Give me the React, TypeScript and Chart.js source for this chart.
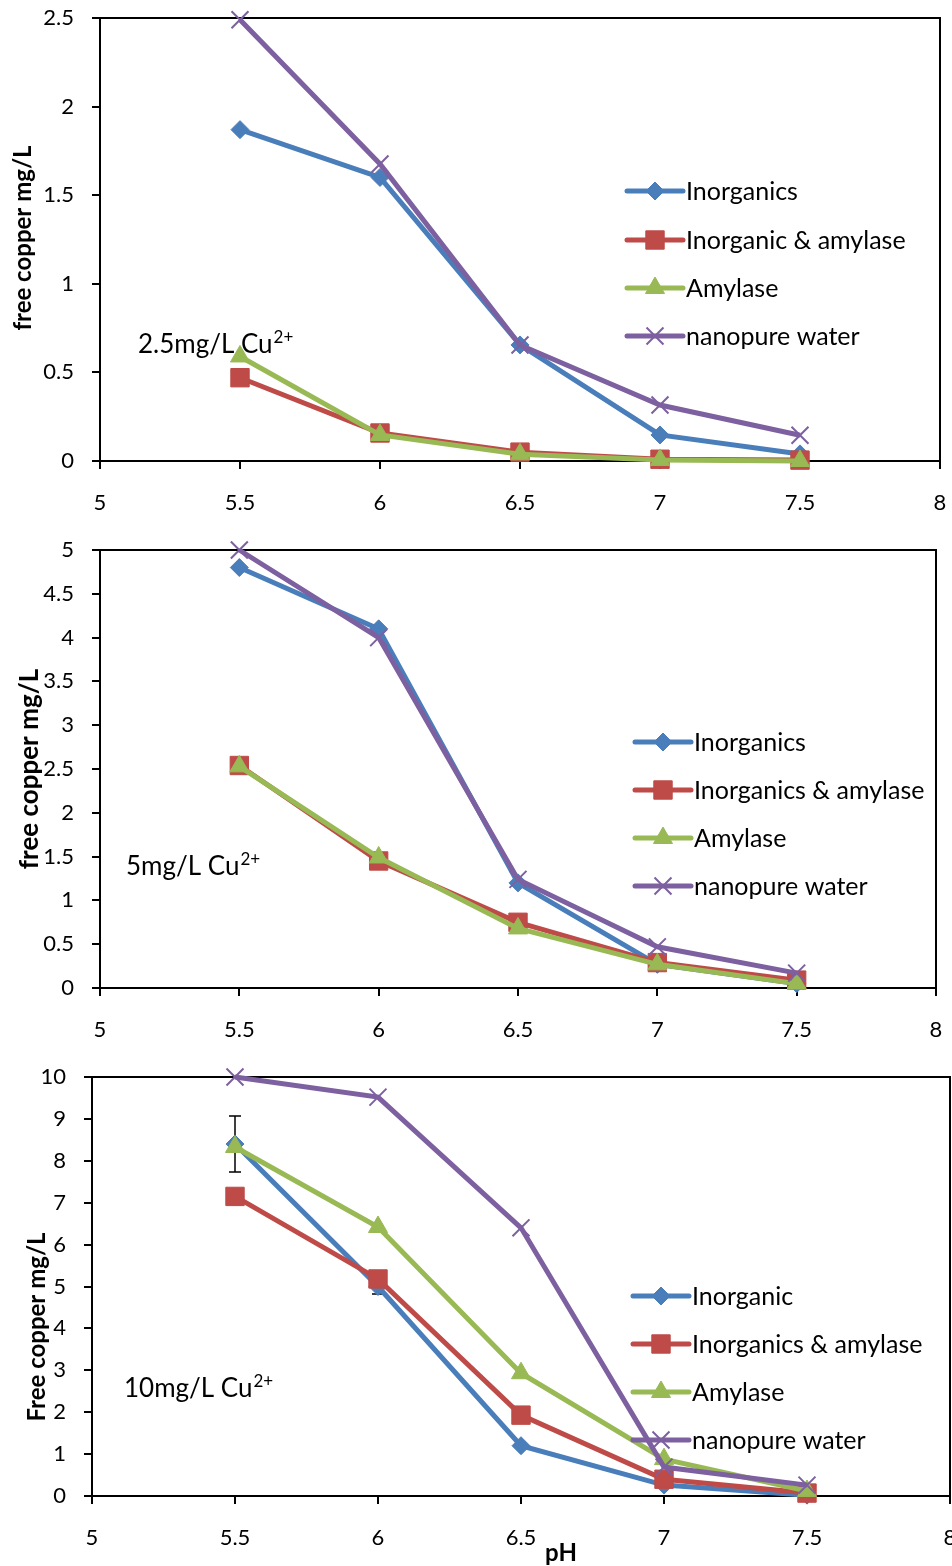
import React, { useEffect, useRef } from "react";
import { Chart, registerables } from "chart.js";
import { drawPoint } from "chart.js/helpers";

Chart.register(...registerables);

// ---------- DATA ----------
const PH = [5.5, 6, 6.5, 7, 7.5];
const X_TICKS_MIN = 5;
const X_TICKS_MAX = 8;

// Panel 1: 2.5 mg/L Cu2+
const P1_INORGANICS = [1.87, 1.6, 0.655, 0.147, 0.04];
const P1_INORG_AMYLASE = [0.47, 0.158, 0.05, 0.01, 0.005];
const P1_AMYLASE = [0.59, 0.147, 0.038, 0.006, 0.0];
const P1_NANOPURE = [2.49, 1.676, 0.655, 0.316, 0.145];

// Panel 2: 5 mg/L Cu2+
const P2_INORGANICS = [4.8, 4.1, 1.2, 0.27, 0.05];
const P2_INORG_AMYLASE = [2.54, 1.45, 0.75, 0.29, 0.09];
const P2_AMYLASE = [2.53, 1.49, 0.68, 0.27, 0.05];
const P2_NANOPURE = [5.0, 4.0, 1.24, 0.47, 0.17];

// Panel 3: 10 mg/L Cu2+
const P3_INORGANIC = [8.4, 5.0, 1.2, 0.26, 0.02];
const P3_INORGANIC_ERR = [0.67, 0.18, 0, 0, 0];
const P3_INORG_AMYLASE = [7.15, 5.18, 1.93, 0.4, 0.07];
const P3_AMYLASE = [8.33, 6.42, 2.93, 0.88, 0.12];
const P3_NANOPURE = [10.0, 9.52, 6.4, 0.69, 0.26];

const P1_LABELS = ["Inorganics", "Inorganic & amylase", "Amylase", "nanopure water"];
const P2_LABELS = ["Inorganics", "Inorganics & amylase", "Amylase", "nanopure water"];
const P3_LABELS = ["Inorganic", "Inorganics & amylase", "Amylase", "nanopure water"];

// ---------- STYLE ----------
const COLORS = ["#4A7EBB", "#BE4B48", "#98B954", "#7D60A0"];
const STYLES = [
  { pointStyle: "rectRot", radius: 9, borderWidth: 1 },
  { pointStyle: "rect", radius: 13, borderWidth: 1 },
  { pointStyle: "triangle", radius: 11, borderWidth: 1 },
  { pointStyle: "crossRot", radius: 12, borderWidth: 2 },
];
const FONT = "Lato, 'Open Sans', sans-serif";

type Panel = {
  top: number;
  height: number;
  area: { top: number; bottom: number; left: number; right: number };
  yMax: number;
  yStep: number;
  labels: string[];
  values: number[][];
  errors?: (number[] | null)[];
  legend: { x1: number; x2: number; textX: number; rows: number[] };
  note: { text: string; sup: string; x: number; y: number };
  yTitle: { text: string; x: number; y: number; size: number };
  xTitle?: { text: string; x: number; y: number };
};

const PANELS: Panel[] = [
  {
    top: 0,
    height: 520,
    area: { top: 18, bottom: 461, left: 100, right: 940 },
    yMax: 2.5,
    yStep: 0.5,
    labels: P1_LABELS,
    values: [P1_INORGANICS, P1_INORG_AMYLASE, P1_AMYLASE, P1_NANOPURE],
    legend: { x1: 627, x2: 683, textX: 686, rows: [191, 240, 288, 336] },
    note: { text: "2.5mg/L Cu", sup: "2+", x: 138, y: 353 },
    yTitle: { text: "free copper mg/L", x: 23, y: 238, size: 24 },
  },
  {
    top: 520,
    height: 530,
    area: { top: 30, bottom: 468, left: 100, right: 936 },
    yMax: 5,
    yStep: 0.5,
    labels: P2_LABELS,
    values: [P2_INORGANICS, P2_INORG_AMYLASE, P2_AMYLASE, P2_NANOPURE],
    legend: { x1: 635, x2: 691, textX: 694, rows: [222, 270, 318, 366] },
    note: { text: "5mg/L Cu", sup: "2+", x: 126, y: 355 },
    yTitle: { text: "free copper mg/L", x: 30, y: 249, size: 26 },
  },
  {
    top: 1050,
    height: 516,
    area: { top: 27, bottom: 446, left: 92, right: 950 },
    yMax: 10,
    yStep: 1,
    labels: P3_LABELS,
    values: [P3_INORGANIC, P3_INORG_AMYLASE, P3_AMYLASE, P3_NANOPURE],
    errors: [P3_INORGANIC_ERR, null, null, null],
    legend: { x1: 633, x2: 689, textX: 692, rows: [246, 294, 342, 390] },
    note: { text: "10mg/L Cu", sup: "2+", x: 124, y: 347 },
    yTitle: { text: "Free copper mg/L", x: 37, y: 277, size: 24 },
    xTitle: { text: "pH", x: 561, y: 503 },
  },
];

function makeChart(canvas: HTMLCanvasElement, p: Panel, width: number) {
  const datasets = p.values.map((vals, i) => ({
    label: p.labels[i],
    data: PH.map((x, j) => ({ x, y: vals[j] })),
    borderColor: COLORS[i],
    backgroundColor: COLORS[i],
    borderWidth: 5,
    pointStyle: STYLES[i].pointStyle as any,
    pointRadius: STYLES[i].radius,
    pointBackgroundColor: COLORS[i],
    pointBorderColor: COLORS[i],
    pointBorderWidth: STYLES[i].borderWidth,
    clip: false as any,
    order: 3 - i,
    tension: 0,
  }));

  const deco = {
    id: "deco",
    beforeDatasetsDraw(chart: any) {
      const ctx = chart.ctx;
      const a = chart.chartArea;
      ctx.save();
      ctx.strokeStyle = "#000";
      ctx.lineWidth = 2;
      ctx.beginPath();
      ctx.moveTo(a.left, a.top);
      ctx.lineTo(a.right, a.top);
      ctx.lineTo(a.right, a.bottom);
      ctx.stroke();
      // error bars
      if (p.errors) {
        const xs = chart.scales.x;
        const ys = chart.scales.y;
        ctx.lineWidth = 1.5;
        p.errors.forEach((errs, i) => {
          if (!errs) return;
          errs.forEach((e, j) => {
            if (!e) return;
            const px = xs.getPixelForValue(PH[j]);
            const y1 = ys.getPixelForValue(p.values[i][j] + e);
            const y2 = ys.getPixelForValue(p.values[i][j] - e);
            ctx.beginPath();
            ctx.moveTo(px, y1);
            ctx.lineTo(px, y2);
            ctx.moveTo(px - 6, y1);
            ctx.lineTo(px + 6, y1);
            ctx.moveTo(px - 6, y2);
            ctx.lineTo(px + 6, y2);
            ctx.stroke();
          });
        });
      }
      ctx.restore();
    },
    afterDraw(chart: any) {
      const ctx = chart.ctx;
      ctx.save();
      // legend
      const L = p.legend;
      p.labels.forEach((lab, i) => {
        const y = L.rows[i];
        ctx.strokeStyle = COLORS[i];
        ctx.fillStyle = COLORS[i];
        ctx.lineWidth = 5;
        ctx.lineCap = "round";
        ctx.beginPath();
        ctx.moveTo(L.x1, y);
        ctx.lineTo(L.x2, y);
        ctx.stroke();
        ctx.lineCap = "butt";
        ctx.lineWidth = STYLES[i].borderWidth;
        drawPoint(ctx, { pointStyle: STYLES[i].pointStyle as any, radius: STYLES[i].radius, rotation: 0, borderWidth: STYLES[i].borderWidth } as any, (L.x1 + L.x2) / 2, y);
        ctx.fillStyle = "#000";
        ctx.font = `25px ${FONT}`;
        ctx.textAlign = "left";
        ctx.textBaseline = "middle";
        ctx.fillText(lab, L.textX, y + 1);
      });
      // note
      ctx.fillStyle = "#000";
      ctx.textBaseline = "alphabetic";
      ctx.font = `26px ${FONT}`;
      ctx.fillText(p.note.text, p.note.x, p.note.y);
      const w = ctx.measureText(p.note.text).width;
      ctx.font = `17px ${FONT}`;
      ctx.fillText(p.note.sup, p.note.x + w + 1, p.note.y - 10);
      // y title
      ctx.font = `bold ${p.yTitle.size}px ${FONT}`;
      ctx.textAlign = "center";
      ctx.textBaseline = "middle";
      ctx.translate(p.yTitle.x, p.yTitle.y);
      ctx.rotate(-Math.PI / 2);
      ctx.fillText(p.yTitle.text, 0, 0);
      ctx.restore();
      if (p.xTitle) {
        ctx.save();
        ctx.fillStyle = "#000";
        ctx.font = `bold 24px ${FONT}`;
        ctx.textAlign = "center";
        ctx.textBaseline = "middle";
        ctx.fillText(p.xTitle.text, p.xTitle.x, p.xTitle.y);
        ctx.restore();
      }
    },
  };

  const tickFont = { family: FONT, size: 22 };
  const xAxisH = 50;

  return new Chart(canvas, {
    type: "line",
    data: { datasets: datasets as any },
    options: {
      responsive: false,
      animation: false,
      layout: {
        autoPadding: false,
        padding: {
          top: p.area.top,
          left: 0,
          right: width - p.area.right,
          bottom: p.height - p.area.bottom - xAxisH,
        },
      },
      plugins: { legend: { display: false }, tooltip: { enabled: false } },
      scales: {
        x: {
          type: "linear",
          min: X_TICKS_MIN,
          max: X_TICKS_MAX,
          ticks: {
            stepSize: 0.5,
            color: "#000",
            font: tickFont,
            padding: 21,
            maxRotation: 0,
            autoSkip: false,
            callback: (v: any) => String(v),
          },
          grid: { drawOnChartArea: false, drawTicks: true, tickLength: 8, color: "#000", lineWidth: 2 },
          border: { color: "#000", width: 2 },
          afterFit: (s: any) => {
            s.height = xAxisH;
            s.paddingLeft = 0;
            s.paddingRight = 0;
          },
        },
        y: {
          type: "linear",
          min: 0,
          max: p.yMax,
          ticks: {
            stepSize: p.yStep,
            color: "#000",
            font: tickFont,
            padding: 18,
            callback: (v: any) => String(v),
          },
          grid: { drawOnChartArea: false, drawTicks: true, tickLength: 8, color: "#000", lineWidth: 2 },
          border: { color: "#000", width: 2 },
          afterFit: (s: any) => {
            s.width = p.area.left;
            s.paddingTop = 0;
            s.paddingBottom = 0;
          },
        },
      },
    } as any,
    plugins: [deco],
  });
}

function PanelView({ panel }: { panel: Panel }) {
  const ref = useRef<HTMLCanvasElement | null>(null);
  const W = 952;
  useEffect(() => {
    if (!ref.current) return;
    const c = makeChart(ref.current, panel, W);
    return () => c.destroy();
  }, [panel]);
  return (
    <div style={{ position: "absolute", left: 0, top: panel.top, width: W, height: panel.height }}>
      <canvas ref={ref} width={W} height={panel.height} style={{ width: W, height: panel.height, display: "block" }} />
    </div>
  );
}

export default function App() {
  return (
    <div style={{ position: "absolute", left: 0, top: 0, width: 952, height: 1566, background: "#fff", overflow: "hidden" }}>
      {PANELS.map((p, i) => (
        <PanelView key={i} panel={p} />
      ))}
    </div>
  );
}
